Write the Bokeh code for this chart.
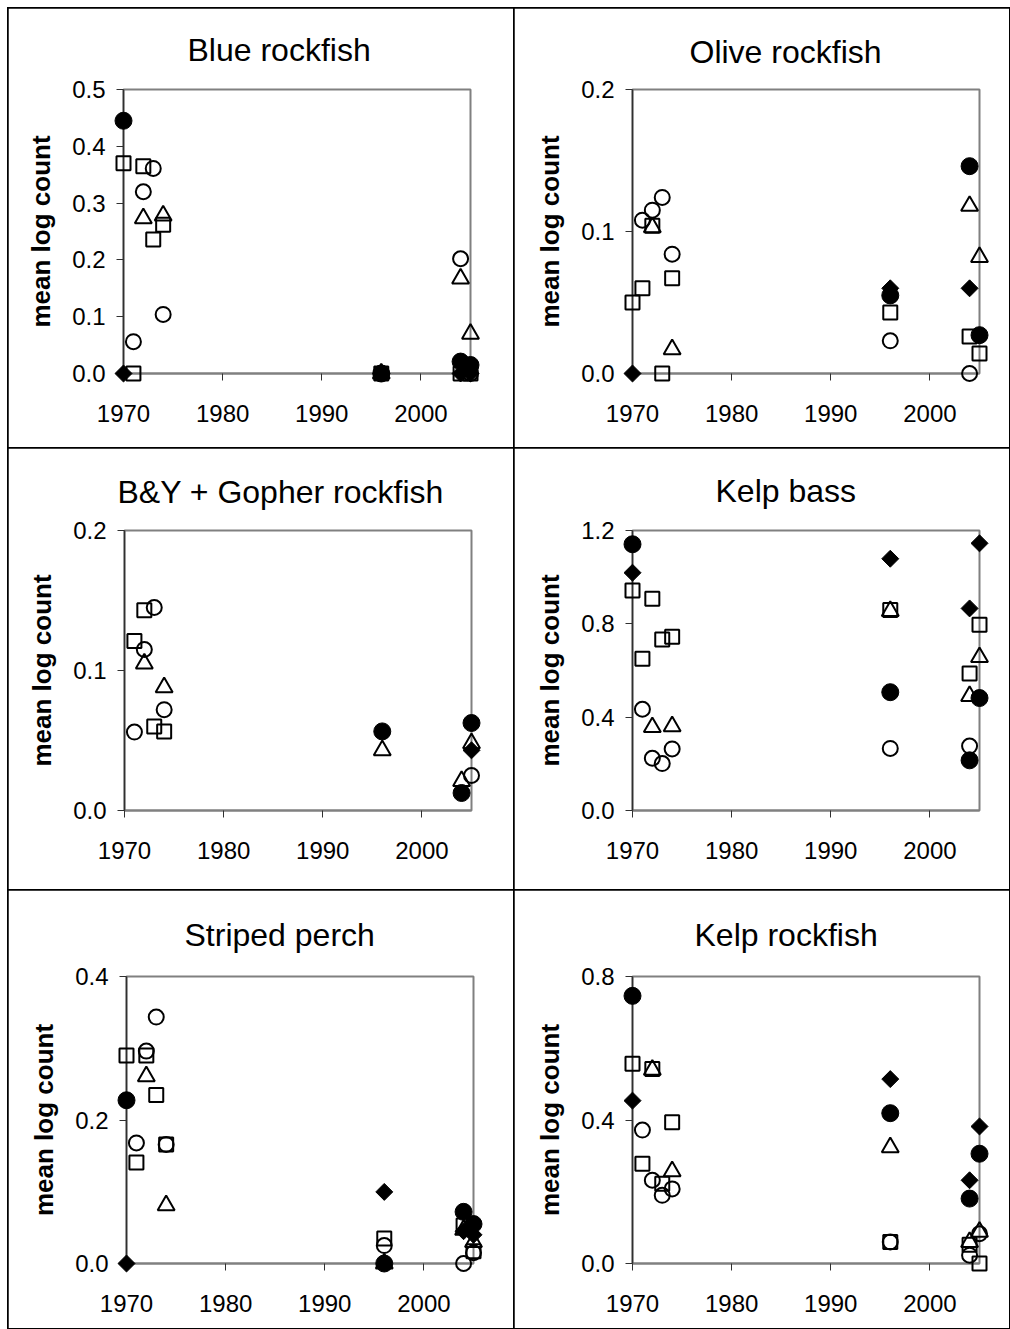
import math

from bokeh.plotting import figure
from bokeh.layouts import row, column
from bokeh.models import Range1d, FixedTicker, PrintfTickFormatter, Title, ColumnDataSource
from bokeh.embed import file_html
from bokeh.resources import INLINE

# Survey years shared by every panel
YEARS = [1970, 1971, 1972, 1973, 1974, 1996, 2004, 2005]
N = None

# Blue rockfish
BLUE_FILLED_CIRCLE = [0.445, N, N, N, N, 0.0, 0.021, 0.015]
BLUE_OPEN_CIRCLE = [N, 0.056, 0.320, 0.361, 0.104, 0.0, 0.202, 0.0]
BLUE_SQUARE = [0.370, 0.0, 0.365, 0.236, 0.262, 0.0, 0.0, 0.0]
BLUE_TRIANGLE = [N, N, 0.273, N, 0.278, 0.0, 0.167, 0.070]
BLUE_DIAMOND = [0.0, N, N, N, N, 0.0, 0.0, 0.0]

# Olive rockfish
OLIVE_FILLED_CIRCLE = [N, N, N, N, N, 0.055, 0.146, 0.027]
OLIVE_OPEN_CIRCLE = [N, 0.108, 0.115, 0.124, 0.084, 0.023, 0.0, N]
OLIVE_SQUARE = [0.050, 0.060, 0.104, 0.0, 0.067, 0.043, 0.026, 0.014]
OLIVE_TRIANGLE = [N, N, 0.103, N, 0.017, N, 0.118, 0.082]
OLIVE_DIAMOND = [0.0, N, N, N, N, 0.060, 0.060, N]

# Black-and-yellow + gopher rockfish
BYG_FILLED_CIRCLE = [N, N, N, N, N, 0.0565, 0.0125, 0.0625]
BYG_OPEN_CIRCLE = [N, 0.056, 0.115, 0.145, 0.072, N, N, 0.025]
BYG_SQUARE = [N, 0.121, 0.143, 0.060, 0.0565, N, N, N]
BYG_TRIANGLE = [N, N, 0.105, N, 0.088, 0.043, 0.021, 0.048]
BYG_DIAMOND = [N, N, N, N, N, N, N, 0.043]

# Kelp bass
KBASS_FILLED_CIRCLE = [1.141, N, N, N, N, 0.507, 0.215, 0.482]
KBASS_OPEN_CIRCLE = [N, 0.434, 0.224, 0.201, 0.264, 0.266, 0.276, N]
KBASS_SQUARE = [0.943, 0.650, 0.908, 0.733, 0.745, 0.859, 0.587, 0.796]
KBASS_TRIANGLE = [N, N, 0.357, N, 0.361, 0.855, 0.490, 0.657]
KBASS_DIAMOND = [1.019, N, N, N, N, 1.079, 0.866, 1.145]

# Striped perch
SPERCH_FILLED_CIRCLE = [0.2275, N, N, N, N, 0.0, 0.072, 0.055]
SPERCH_OPEN_CIRCLE = [N, 0.168, 0.296, 0.3435, 0.166, 0.025, 0.0, 0.015]
SPERCH_SQUARE = [0.290, 0.1406, 0.290, 0.235, 0.166, 0.035, 0.053, 0.017]
SPERCH_TRIANGLE = [N, N, 0.261, N, 0.081, 0.0, 0.047, 0.030]
SPERCH_DIAMOND = [0.0, N, N, N, N, 0.0998, 0.045, 0.040]

# Kelp rockfish
KROCK_FILLED_CIRCLE = [0.746, N, N, N, N, 0.419, 0.181, 0.306]
KROCK_OPEN_CIRCLE = [N, 0.372, 0.232, 0.190, 0.208, 0.060, 0.023, 0.083]
KROCK_SQUARE = [0.557, 0.278, 0.542, 0.222, 0.394, 0.060, 0.052, 0.0]
KROCK_TRIANGLE = [N, N, 0.540, N, 0.257, 0.324, 0.060, 0.088]
KROCK_DIAMOND = [0.454, N, N, N, N, 0.514, 0.232, 0.382]

X_TICKS = [1970, 1980, 1990, 2000]

FONT = "Liberation Sans"


def make_panel(title, title_offset, ymax, yticks, series, width, height, borders):
    left, right, top, bottom = borders
    p = figure(width=width, height=height, output_backend="svg", toolbar_location=None,
               x_range=Range1d(1970, 2005), y_range=Range1d(0, ymax),
               min_border_left=left, min_border_right=right,
               min_border_top=top, min_border_bottom=bottom,
               background_fill_color="white", border_fill_color="white")
    # the heading uses as much of the top margin as it can without moving the frame
    p.title = Title(text=title, align="left", offset=title_offset, standoff=top - 37,
                    text_font=FONT, text_font_size="32px", text_font_style="normal",
                    text_color="black")
    p.grid.visible = False
    p.outline_line_color = "#808080"
    p.outline_line_width = 2

    for ax in (p.xaxis[0], p.yaxis[0]):
        ax.major_label_text_font = FONT
        ax.major_label_text_font_size = "24px"
        ax.major_label_text_color = "black"
        ax.major_tick_in = 0
        ax.major_tick_out = 7
        ax.minor_tick_in = 0
        ax.minor_tick_out = 0
        ax.major_tick_line_color = "#303030"

    p.xaxis.ticker = FixedTicker(ticks=X_TICKS)
    p.xaxis.axis_line_color = "#808080"
    p.xaxis.axis_line_width = 2
    p.xaxis.major_label_standoff = 24

    p.yaxis.ticker = FixedTicker(ticks=yticks)
    p.yaxis.formatter = PrintfTickFormatter(format="%.1f")
    p.yaxis.axis_line_color = "#303030"
    p.yaxis.axis_line_width = 1.5
    p.yaxis.major_label_standoff = 11
    p.yaxis.axis_label = "mean log count"
    p.yaxis.axis_label_text_font = FONT
    p.yaxis.axis_label_text_font_size = "26px"
    p.yaxis.axis_label_text_font_style = "bold"
    p.yaxis.axis_label_text_color = "black"
    p.yaxis.axis_label_standoff = 13

    filled_circle, open_circle, square, triangle, diamond = series
    styles = [
        (square, dict(marker="square", size=14, fill_alpha=0, line_color="black", line_width=2)),
        (open_circle, dict(marker="circle", size=15, fill_alpha=0, line_color="black", line_width=2)),
        (triangle, dict(marker="triangle", size=17, fill_alpha=0, line_color="black", line_width=2)),
        (diamond, dict(marker="square", size=12, angle=math.pi / 4, fill_color="black",
                       line_color="black", line_width=1)),
        (filled_circle, dict(marker="circle", size=17, fill_color="black", line_color="black",
                             line_width=1)),
    ]
    for values, kw in styles:
        xs = [yr for yr, v in zip(YEARS, values) if v is not None]
        ys = [v for v in values if v is not None]
        src = ColumnDataSource(data=dict(x=xs, y=ys))
        r = p.scatter("x", "y", source=src, **kw)
        r.level = "overlay"
    return p


p1 = make_panel("Blue rockfish", 64, 0.5, [0.0, 0.1, 0.2, 0.3, 0.4, 0.5],
                (BLUE_FILLED_CIRCLE, BLUE_OPEN_CIRCLE, BLUE_SQUARE, BLUE_TRIANGLE, BLUE_DIAMOND),
                505, 439, (115, 43, 80, 73))
p2 = make_panel("Olive rockfish", 57, 0.2, [0.0, 0.1, 0.2],
                (OLIVE_FILLED_CIRCLE, OLIVE_OPEN_CIRCLE, OLIVE_SQUARE, OLIVE_TRIANGLE, OLIVE_DIAMOND),
                495, 439, (118, 30, 77, 74))
p3 = make_panel("B&Y + Gopher rockfish", -7, 0.2, [0.0, 0.1, 0.2],
                (BYG_FILLED_CIRCLE, BYG_OPEN_CIRCLE, BYG_SQUARE, BYG_TRIANGLE, BYG_DIAMOND),
                505, 441, (116, 42, 79, 79))
p4 = make_panel("Kelp bass", 83, 1.2, [0.0, 0.4, 0.8, 1.2],
                (KBASS_FILLED_CIRCLE, KBASS_OPEN_CIRCLE, KBASS_SQUARE, KBASS_TRIANGLE, KBASS_DIAMOND),
                495, 441, (118, 30, 81, 73))
p5 = make_panel("Striped perch", 58, 0.4, [0.0, 0.2, 0.4],
                (SPERCH_FILLED_CIRCLE, SPERCH_OPEN_CIRCLE, SPERCH_SQUARE, SPERCH_TRIANGLE, SPERCH_DIAMOND),
                505, 438, (118, 40, 85, 65))
p6 = make_panel("Kelp rockfish", 62, 0.8, [0.0, 0.4, 0.8],
                (KROCK_FILLED_CIRCLE, KROCK_OPEN_CIRCLE, KROCK_SQUARE, KROCK_TRIANGLE, KROCK_DIAMOND),
                495, 438, (118, 30, 84, 65))

# Black gaps between the panels act as the frame lines of each chart box
rows = [row(a, b, spacing=1, styles={"background-color": "black"}) for a, b in
        ((p1, p2), (p3, p4), (p5, p6))]
layout = column(*rows, spacing=1,
                styles={"background-color": "black", "padding": "1px",
                        "margin-left": "7px", "margin-top": "7px"})

open("out.html", "w").write(file_html(layout, INLINE))
